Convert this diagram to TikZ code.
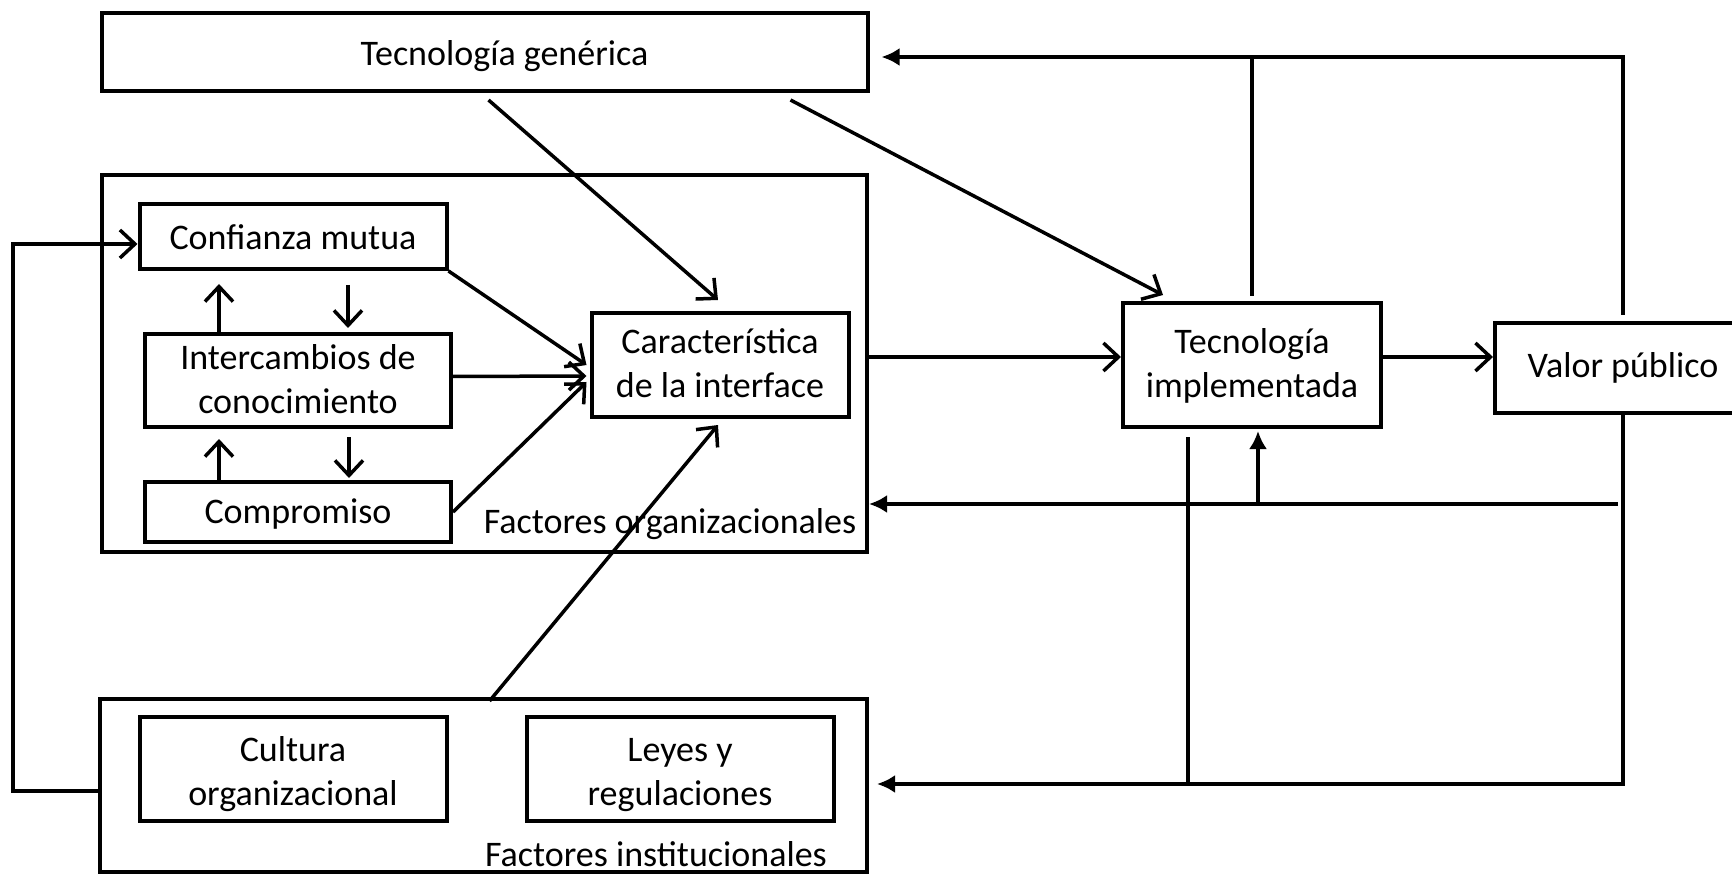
\documentclass[tikz,border=0pt]{standalone}
\usepackage{fontspec}
\setmainfont{Carlito}
\usetikzlibrary{arrows.meta,calc}
\newcommand{\lowtxt}[2]{\raisebox{-#1pt}[\height][\depth]{\begin{tabular}{@{}c@{}}#2\end{tabular}}}
\begin{document}
\begin{tikzpicture}[x=1pt,y=-1pt,
  bx/.style={draw, line width=4pt, rectangle, inner sep=0pt, align=center, font=\fontsize{36}{44}\selectfont},
  lbl/.style={inner sep=0pt, font=\fontsize{36}{44}\selectfont},
  ln/.style={line width=3.5pt},
  oa/.style={line width=3.5pt, -{Straight Barb[length=15pt,width=28pt]}},
  fa/.style={line width=3.5pt, -{Latex[length=18pt,width=18pt]}}]
\useasboundingbox (0,0) rectangle (1732,874);
% boxes
\node[bx, minimum width=766, minimum height=78] (gen) at (484.5,52) {\hspace*{40pt}\lowtxt{5}{Tecnología genérica}};
\node[bx, minimum width=765, minimum height=377] (org) at (484.5,363.5) {};
\node[bx, minimum width=307, minimum height=65] (conf) at (293,236.5) {\lowtxt{4}{Confianza mutua}};
\node[bx, minimum width=306, minimum height=93] (inter) at (298,380.5) {\lowtxt{2}{Intercambios de\\conocimiento}};
\node[bx, minimum width=306, minimum height=60] (comp) at (298,512) {\lowtxt{3}{Compromiso}};
\node[bx, minimum width=257, minimum height=104] (car) at (720,365) {\lowtxt{2}{Característica\\de la interface}};
\node[bx, minimum width=258, minimum height=124] (impl) at (1252,365) {\lowtxt{2}{Tecnología\\implementada}};
\node[bx, minimum width=256, minimum height=90] (valor) at (1623,368) {\lowtxt{1}{Valor público}};
\node[bx, minimum width=767, minimum height=173] (inst) at (483.5,785.5) {};
\node[bx, minimum width=307, minimum height=104] (cult) at (293,768.5) {\lowtxt{6}{Cultura\\organizacional}};
\node[bx, minimum width=307, minimum height=104] (leyes) at (680,768.5) {\lowtxt{6}{Leyes y\\regulaciones}};
\node[lbl] (orglbl) at (670,524) {Factores organizacionales};
\node[lbl] (instlbl) at (656,854) {Factores institucionales};
% top feedback
\coordinate (topR) at ($(valor.north)+(0,-6)$);
\coordinate (topL) at ($(gen.east)+(0,5)$);
\draw[fa, shorten >=12pt] (topR) -- (topR |- topL) -- (topL);
\draw[ln] ($(impl.north)+(0,-5)$) -- (impl.north |- topL);
% from generic technology
\draw[oa] ($(gen.south)+(4,7)$) -- ($(car.north)+(-2,-11)$);
\draw[oa] ($(gen.south east)+(-79,7)$) -- ($(impl.north west)+(42,-6)$);
% into interface
\draw[oa] (conf.south east) -- ($(car.west)+(-3,0)$);
\draw[oa] ($(inter.east)+(0,-4)$) -- ($(car.west)+(-3,11)$);
\draw[oa] (comp.east) -- ($(car.west)+(-3,17)$);
\draw[oa] ($(inst.north)+(6,4)$) -- ($(car.south)+(-2,6)$);
% main chain
\coordinate (ci) at ($(impl.west)+(0,-8)$);
\draw[oa] (ci -| org.east) -- (ci);
\draw[oa] ($(impl.east)+(0,-8)$) -- ($(valor.west)+(0,-11)$);
% middle feedback
\coordinate (fb) at ($(valor.south)+(-5,89)$);
\draw[fa] (fb) -- (fb -| org.east);
\coordinate (fbu) at ($(impl.south)+(6,75)$);
\draw[fa, shorten >=2pt] (fbu) -- (fbu |- impl.south);
% bottom feedback
\coordinate (bb) at ($(valor.south)+(0,369)$);
\draw[fa, shorten >=8pt] (valor.south) -- (bb) -- (bb -| inst.east);
\draw[ln] ($(impl.south)+(-64,8)$) -- ($(impl.south)+(-64,355)$);
% left loop
\coordinate (ll) at ($(inst.west)+(-85,5.5)$);
\coordinate (lt) at ($(conf.west)+(0,7.5)$);
\draw[oa] ($(inst.west)+(0,5.5)$) -- (ll) -- (ll |- lt) -- (lt);
% small arrows
\draw[oa] ($(inter.north west)+(76,0)$) -- ($(conf.south west)+(81.5,13)$);
\draw[oa] ($(conf.south west)+(210.5,14)$) -- ($(inter.north west)+(205,-4)$);
\draw[oa] ($(comp.north west)+(76,0)$) -- ($(inter.south west)+(76,10)$);
\draw[oa] ($(inter.south west)+(206,8)$) -- ($(comp.north west)+(206,-2)$);
\end{tikzpicture}
\end{document}
